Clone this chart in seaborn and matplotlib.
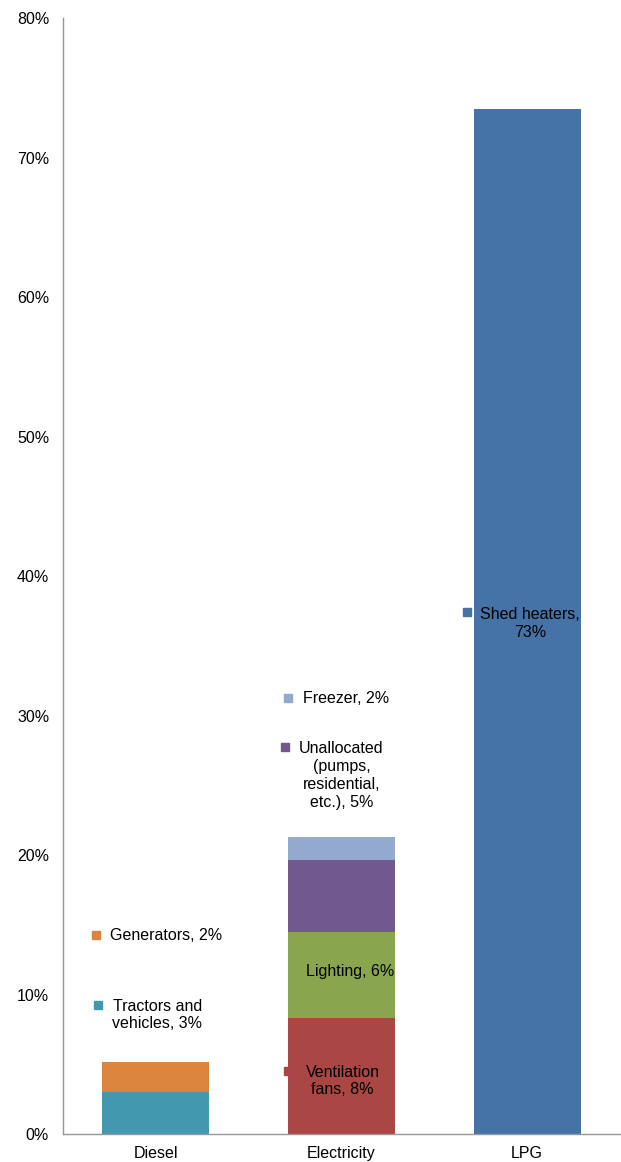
import matplotlib
matplotlib.use("Agg")
import matplotlib.pyplot as plt
import seaborn as sns
import pandas as pd
import numpy as np
from matplotlib.ticker import FuncFormatter

sns.set_theme(style="white")
plt.rcParams['font.family'] = ['Liberation Sans', 'DejaVu Sans']

# ---- data ----
categories = ["Diesel", "Electricity", "LPG"]
seg_category = ["Diesel", "Diesel", "Electricity", "Electricity", "Electricity", "Electricity", "LPG"]
seg_names = ["Tractors and vehicles", "Generators", "Ventilation fans", "Lighting",
             "Unallocated (pumps, residential, etc.)", "Freezer", "Shed heaters"]
seg_values = [3.05, 2.13, 8.36, 6.16, 5.14, 1.65, 73.5]
seg_labels = ["Tractors and\nvehicles, 3%", "Generators, 2%", "Ventilation\nfans, 8%", "Lighting, 6%",
              "Unallocated\n(pumps,\nresidential,\netc.), 5%", "Freezer, 2%", "Shed heaters,\n73%"]
seg_colors = ["#4198AF", "#DB843D", "#AA4643", "#89A54E", "#71588F", "#93A9CF", "#4572A7"]
yticks = [0, 10, 20, 30, 40, 50, 60, 70, 80]

df = pd.DataFrame({"category": seg_category, "name": seg_names, "value": seg_values,
                   "color": seg_colors, "label": seg_labels})
df["top"] = df.groupby("category")["value"].cumsum()

fig = plt.figure(figsize=(6.21, 11.62), dpi=100)
ax = fig.add_axes([63/621, 27.7/1162, (620-63)/621, (1134.3-18)/1162])

# draw from topmost segment down so lower segments overlay
for i in reversed(range(len(df))):
    row = df.iloc[[i]]
    sns.barplot(data=row, x="category", y="top", order=categories, color=row["color"].iloc[0],
                width=0.575, saturation=1, ax=ax, edgecolor="none", linewidth=0)

ax.set_xlim(-0.5, 2.5)
ax.set_ylim(0, 80)
ax.set_yticks(yticks)
ax.yaxis.set_major_formatter(FuncFormatter(lambda v, p: f"{int(v)}%"))
ax.set_xlabel("")
ax.set_ylabel("")
ax.tick_params(axis="y", length=0, pad=10, labelsize=11.5, colors="black")
ax.tick_params(axis="x", length=0, pad=8.5, labelsize=11.5, colors="black")
for s in ["top", "right"]:
    ax.spines[s].set_visible(False)
for s in ["left", "bottom"]:
    ax.spines[s].set_color("#989898")
    ax.spines[s].set_linewidth(1.0)
ax.grid(False)

# data label placements (marker pos, text pos, alignment)
label_layout = {
    "Tractors and vehicles": ((-0.312, 9.27), (0.008, 8.55), "center"),
    "Generators": ((-0.323, 14.3), (-0.247, 14.25), "left"),
    "Ventilation fans": ((0.71, 4.53), (1.005, 3.82), "center"),
    "Lighting": ((0.75, 11.7), (0.81, 11.7), "left"),
    "Unallocated (pumps, residential, etc.)": ((0.694, 27.78), (1.0, 25.72), "center"),
    "Freezer": ((0.71, 31.29), (0.79, 31.25), "left"),
    "Shed heaters": ((1.677, 37.46), (2.016, 36.6), "center"),
}
for _, r in df.iterrows():
    (mx, my), (tx, ty), ha = label_layout[r["name"]]
    ax.plot([mx], [my], marker="s", markersize=6, color=r["color"], linestyle="none", zorder=5,
            clip_on=False)
    ax.text(tx, ty, r["label"], ha=ha, va="center", fontsize=11.5, color="black",
            linespacing=1.24, multialignment="center", zorder=6)

fig.savefig("out.png", dpi=100)
